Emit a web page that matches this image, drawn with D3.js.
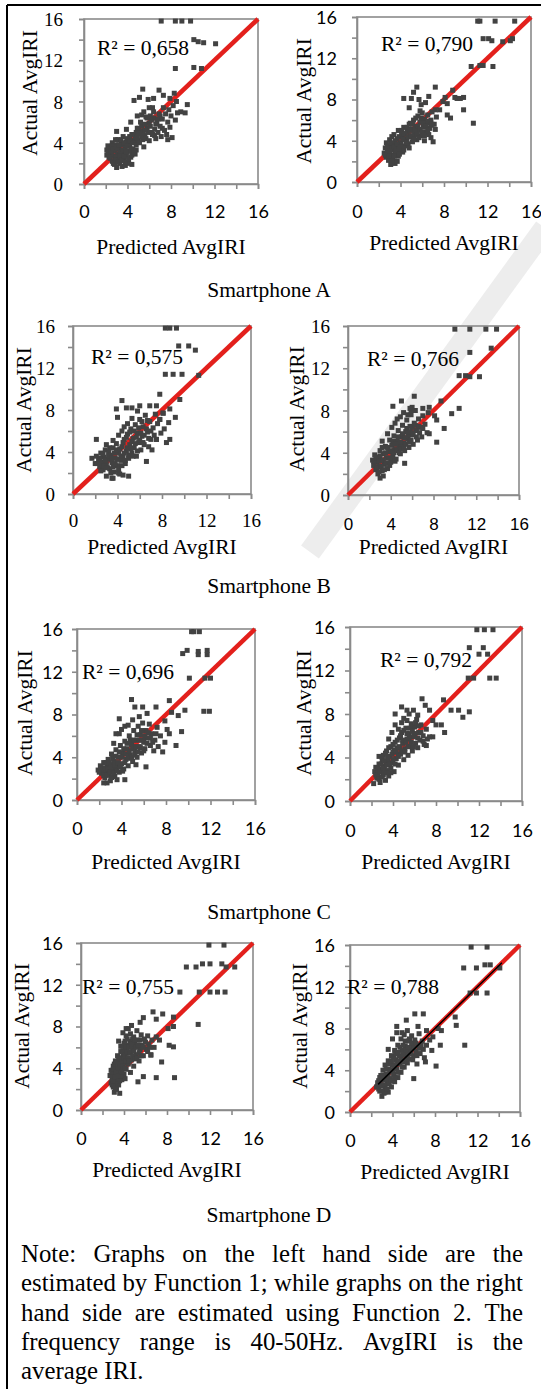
<!DOCTYPE html>
<html>
<head>
<meta charset="utf-8">
<script src="https://cdn.jsdelivr.net/npm/d3@7"></script>
<style>
  body { margin: 0; background: #fff; }
  svg { display: block; }
</style>
</head>
<body>
<div id="fig"></div>
<script>
// ---- data ----
const tickValues = [0, 2, 4, 6, 8, 10, 12, 14, 16];
const captions = ["Smartphone A", "Smartphone B", "Smartphone C", "Smartphone D"];
const r2Values = ["0,658", "0,790", "0,575", "0,766", "0,696", "0,792", "0,755", "0,788"];
const xTitle = "Predicted AvgIRI";
const yTitle = "Actual AvgIRI";
const trendD2 = [2.65, 14.3]; // thin black trend line, last panel
const noteLines = [
  "Note: Graphs on the left hand side are the",
  "estimated by Function 1; while graphs on the right",
  "hand side are estimated using Function 2. The",
  "frequency range is 40-50Hz. AvgIRI is the",
  "average IRI."
];

// [predicted, actual]
const pointsA1 = [
  [2.1,2.8],[2.1,3.3],[2.2,3.7],[2.4,2.5],[2.4,3.0],[2.5,3.5],[2.6,2.2],[2.6,4.0],[2.7,2.7],[2.8,3.2],[2.8,1.9],[2.9,3.8],
  [3.0,2.4],[3.0,1.6],[3.1,2.9],[3.1,4.3],[3.2,3.4],[3.3,2.0],[3.4,2.6],[3.4,3.9],[3.5,1.7],[3.5,3.1],[3.6,4.6],[3.7,2.3],
  [3.8,3.5],[3.8,1.8],[3.9,2.8],[3.9,4.1],[4.0,3.2],[4.1,2.0],[4.2,3.8],[4.2,4.6],[4.3,2.6],[4.4,1.9],[4.5,3.4],[4.6,4.2],
  [4.7,2.9],[4.8,5.0],[2.3,3.4],[2.9,2.6],[3.3,3.0],[3.6,3.8],[2.5,2.9],[3.2,2.3],[4.0,4.4],[4.4,3.1],
  [2.2,3.0],[2.3,2.6],[2.5,3.2],[2.6,3.7],[2.7,2.0],[2.7,3.4],[2.9,2.3],[2.9,4.3],[3.0,3.6],[3.1,2.1],[3.2,3.8],[3.3,2.7],
  [3.4,4.3],[3.5,2.3],[3.6,3.3],[3.7,2.7],[3.7,4.0],[3.8,2.1],[3.9,3.1],[4.0,3.7],[4.1,2.4],[4.2,4.2],[4.3,3.4],[4.4,2.8],
  [4.5,4.0],[4.6,3.0],[4.7,4.6],[4.8,3.3],[4.9,5.4],[5.0,4.2],[5.2,5.0],[5.3,5.6],[5.4,4.3],[5.6,4.7],[5.8,5.4],[6.0,5.9],
  [6.2,5.0],[6.4,6.4],[6.5,4.7],[6.8,6.3],[7.0,6.6],[7.2,5.4],[5.3,6.7],[5.7,6.5],[6.3,7.4],
  [3.0,5.1],[3.9,5.3],[4.4,4.8],[4.8,3.8],[4.9,4.5],[5.0,5.4],[5.1,4.0],[5.2,6.0],[5.3,4.6],[5.4,5.1],[5.5,3.6],[5.6,5.8],
  [5.7,4.4],[5.8,6.4],[5.9,5.0],[6.0,4.2],[6.1,5.6],[6.2,6.2],[6.3,4.8],[6.4,7.0],[6.5,5.3],[6.6,4.4],[6.7,6.0],[6.8,5.0],
  [6.9,6.8],[7.0,5.6],[7.1,4.6],[7.2,6.3],[7.3,7.4],[7.4,5.2],[7.5,6.8],[7.6,4.8],[7.7,6.0],[7.8,7.2],[7.9,5.5],[8.0,6.6],
  [8.1,4.5],[8.2,7.6],[7.7,4.3],[8.4,6.2],[8.6,6.9],[8.9,7.0],[9.3,6.9],[9.5,7.7],[8.5,8.0],[5.0,4.9],[5.6,5.2],[6.1,6.6],[6.6,5.8],
  [4.6,8.1],[5.1,8.4],[5.4,9.2],[5.9,8.2],[6.4,8.3],[6.9,9.1],[7.3,8.6],[7.9,8.3],[8.3,8.8],[6.0,7.4],[5.5,7.0],[4.9,6.6],[4.3,6.0],
  [7.1,15.8],[8.4,15.8],[9.0,15.8],[9.8,15.8],[10.1,14.0],[10.5,13.8],[11.0,13.7],[12.1,13.6],[8.4,11.2],[10.1,11.3],[10.8,11.2]
];
const pointsA2 = [
  [2.5,2.8],[2.6,3.3],[2.7,2.4],[2.7,3.8],[2.8,2.9],[2.9,2.1],[2.9,3.5],[3.0,4.1],[3.1,2.6],[3.1,1.7],[3.2,3.1],[3.3,2.2],
  [3.3,3.7],[3.4,4.6],[3.5,2.8],[3.5,1.8],[3.6,3.4],[3.7,4.2],[3.8,2.5],[3.8,5.0],[3.9,3.0],[4.0,3.8],[4.1,4.6],[4.2,2.9],
  [4.3,5.3],[4.4,3.5],[4.5,4.2],[4.6,4.9],[4.7,3.7],[4.8,5.6],[4.9,4.4],[5.0,5.1],[5.1,3.9],[5.2,6.0],[5.3,4.6],[5.4,5.4],
  [5.5,4.1],[5.6,6.4],[5.7,5.0],[5.8,5.8],[5.9,4.5],[6.0,6.7],[6.1,5.3],[6.2,6.1],[6.3,4.8],[6.4,5.7],[6.5,6.5],[6.7,5.2],
  [6.8,6.0],[6.9,6.8],[7.1,5.6],[7.3,6.3],[4.0,3.1],[4.6,4.0],[5.4,4.8],[3.6,2.6],[4.9,5.7],[5.8,6.9],[4.3,4.1],[3.0,3.3],
  [2.6,2.6],[2.8,3.4],[2.9,2.5],[3.0,3.0],[3.1,3.8],[3.2,2.0],[3.2,4.4],[3.4,2.5],[3.4,3.4],[3.5,4.0],[3.6,3.0],[3.7,2.0],
  [3.7,3.7],[3.9,4.4],[3.9,2.7],[4.0,3.4],[4.1,5.0],[4.2,4.2],[4.3,3.1],[4.4,4.7],[4.5,3.8],[4.6,5.3],[4.7,4.4],[4.8,3.3],
  [4.9,5.0],[5.0,4.5],[5.1,5.6],[5.2,4.2],[5.3,5.0],[5.4,6.2],[5.5,4.6],[5.6,5.4],[5.7,4.3],[5.8,5.1],[5.9,6.2],[6.0,4.8],
  [6.1,5.7],[6.2,4.5],[6.3,5.4],[6.5,5.0],[6.6,5.9],[6.8,5.5],
  [10.7,5.7],[9.8,8.2],[9.2,8.1],[9.5,8.1],[8.8,8.9],[8.3,6.5],[8.6,6.2],[9.8,7.0],[9.0,8.2],[8.1,8.2],[7.9,7.8],[7.6,7.0],
  [7.2,7.0],[8.3,7.6],[5.5,9.2],[4.3,8.1],[7.2,9.2],[6.6,8.3],[5.2,8.7],[5.0,8.1],[4.8,7.2],[5.7,8.0],[5.9,7.5],[6.3,7.7],
  [6.8,4.3],[7.0,3.9],[6.6,4.6],[6.2,4.0],[7.2,5.1],[6.9,5.6],
  [11.1,15.6],[11.3,15.6],[12.7,15.6],[14.5,15.6],[11.6,13.9],[12.1,13.9],[12.4,13.7],[13.4,13.6],[14.3,13.9],[14.1,13.7],
  [10.5,11.2],[11.3,11.3],[11.6,11.3],[12.5,11.2]
];
const pointsB1 = [
  [1.7,3.4],[2.0,2.9],[2.1,3.6],[2.3,3.2],[2.4,2.6],[2.5,3.9],[2.6,3.0],[2.7,2.3],[2.8,3.5],[2.9,4.2],[3.0,1.7],[3.0,2.8],
  [3.1,3.3],[3.2,4.0],[3.3,2.4],[3.4,3.7],[3.5,1.5],[3.5,3.0],[3.6,4.4],[3.7,2.1],[3.8,3.4],[3.9,4.8],[4.0,2.7],[4.1,3.9],
  [4.2,1.9],[4.3,3.2],[4.4,4.5],[4.5,1.8],[4.5,3.6],[4.6,5.2],[4.7,2.9],[4.8,4.1],[4.9,5.7],[5.0,1.7],[5.0,3.4],[5.1,4.7],
  [5.2,6.2],[5.3,3.9],[5.4,5.3],[5.5,4.4],[5.6,6.6],[5.7,3.6],[5.8,5.8],[5.9,4.9],[6.0,7.1],[6.1,4.2],[6.2,5.5],[6.3,6.4],
  [6.4,4.7],[6.5,7.5],[6.6,3.1],[6.7,5.9],[6.8,4.5],[6.9,6.9],[7.0,5.2],[7.1,4.2],[7.2,6.3],[7.4,7.6],[7.5,5.2],[7.6,6.7],
  [7.8,7.1],[7.9,5.8],[8.1,7.7],[8.2,6.2],[4.1,5.6],[3.6,5.1],[4.0,7.3],[4.6,6.4],[5.3,7.2],[5.8,7.9],[2.1,5.2],[3.0,4.7],
  [2.2,2.9],[2.4,3.4],[2.5,2.2],[2.7,3.8],[2.8,2.7],[2.9,3.2],[3.1,2.5],[3.2,3.6],[3.3,4.4],[3.4,2.0],[3.5,3.4],[3.6,2.6],
  [3.7,3.9],[3.8,2.9],[3.9,4.2],[4.0,3.3],[4.1,2.3],[4.2,4.3],[4.3,3.6],[4.4,2.7],[4.5,4.9],[4.6,3.9],[4.7,3.2],[4.8,5.4],
  [4.9,4.4],[5.0,3.7],[5.1,5.9],[5.2,4.3],[5.3,5.0],[5.4,3.6],[5.5,6.0],[5.6,4.8],[5.7,5.4],[5.8,4.1],[5.9,6.3],[6.0,5.1],
  [6.1,5.8],[6.3,4.9],[6.4,5.6],[6.6,6.2],[6.8,5.3],[7.0,6.0],[7.3,5.6],[6.2,6.9],[6.7,7.0],[4.4,6.0],[4.9,6.7],
  [7.8,9.5],[9.6,9.0],[4.4,8.9],[4.8,8.2],[5.3,8.2],[6.0,8.4],[6.9,8.4],[7.5,8.4],[8.1,7.7],[8.7,8.1],[9.2,7.3],[8.6,6.8],
  [8.7,5.2],[8.4,4.9],[7.5,5.2],[7.8,7.1],[3.6,1.5],[4.1,2.0],[3.9,8.1],
  [8.3,15.8],[8.7,15.8],[9.3,15.8],[9.5,14.1],[10.4,14.1],[11.0,13.7],[8.3,11.4],[9.0,11.4],[9.8,11.4],[11.3,11.3]
];
const pointsB2 = [
  [2.3,3.3],[2.4,2.8],[2.5,3.8],[2.6,2.4],[2.7,3.1],[2.8,3.6],[2.8,2.0],[2.9,2.7],[3.0,4.2],[3.0,1.6],[3.1,3.3],[3.2,2.3],
  [3.3,3.9],[3.3,1.8],[3.4,2.9],[3.5,4.6],[3.6,3.5],[3.7,2.5],[3.8,4.1],[3.9,5.2],[4.0,3.1],[4.1,4.7],[4.2,3.8],[4.3,5.6],
  [4.4,4.3],[4.5,3.4],[4.6,5.1],[4.7,6.1],[4.8,4.6],[4.9,3.9],[5.0,5.5],[5.1,6.6],[5.2,4.9],[5.3,4.2],[5.4,6.0],[5.5,7.1],
  [5.6,5.3],[5.7,4.5],[5.8,6.5],[5.9,7.6],[6.0,5.7],[6.1,4.8],[6.2,6.8],[6.3,8.0],[6.4,6.1],[6.5,5.2],[6.6,7.2],[6.8,6.4],
  [6.9,5.5],[7.0,7.5],[7.2,6.7],[7.4,5.9],[7.5,7.8],[4.6,7.2],[4.1,6.4],[5.2,7.8],[5.3,3.0],[3.7,5.8],[3.2,5.1],[6.0,8.3],
  [2.4,3.2],[2.6,3.5],[2.7,2.6],[2.9,3.2],[2.9,2.2],[3.0,3.7],[3.1,2.7],[3.2,4.5],[3.3,3.3],[3.4,2.4],[3.5,4.0],[3.6,3.0],
  [3.7,4.5],[3.8,3.5],[3.9,2.8],[4.0,4.2],[4.1,3.5],[4.2,5.1],[4.3,4.0],[4.4,3.2],[4.5,4.8],[4.6,4.2],[4.7,5.5],[4.8,4.0],
  [4.9,5.0],[5.0,4.4],[5.1,5.8],[5.2,4.5],[5.3,5.4],[5.4,4.8],[5.5,6.3],[5.6,5.6],[5.7,5.0],[5.8,6.0],[5.9,5.2],[6.0,6.4],
  [6.1,5.9],[6.3,6.6],[6.4,5.5],[6.6,6.5],[6.7,5.9],[7.0,6.3],[4.4,6.8],[4.9,7.4],[5.6,7.6],[5.9,8.0],
  [8.7,8.9],[10.4,8.2],[9.7,7.7],[8.3,7.1],[9.0,6.3],[8.3,5.0],[7.6,5.8],[5.0,8.9],[6.2,9.35],[4.2,8.4],[5.8,8.2],[7.0,8.2],
  [7.6,8.3],[8.1,7.5],
  [10.0,15.7],[11.4,15.7],[12.9,15.7],[13.9,15.7],[11.4,13.5],[13.4,13.9],[10.4,11.3],[11.0,11.3],[11.4,11.2],[12.3,11.2]
];
const pointsC1 = [
  [1.9,2.8],[2.1,3.2],[2.2,2.5],[2.3,2.9],[2.4,3.5],[2.5,2.1],[2.6,2.7],[2.7,3.1],[2.7,1.6],[2.8,3.8],[2.9,2.4],[3.0,3.3],
  [3.0,1.8],[3.1,4.3],[3.2,2.8],[3.3,3.6],[3.4,2.2],[3.5,4.7],[3.5,3.1],[3.6,1.9],[3.7,4.0],[3.8,2.6],[3.9,5.1],[4.0,3.4],
  [4.1,4.4],[4.2,2.9],[4.3,5.5],[4.4,3.8],[4.5,4.8],[4.6,3.2],[4.7,6.0],[4.8,4.2],[4.9,5.2],[5.0,3.6],[5.1,6.5],[5.2,4.6],
  [5.3,5.6],[5.4,4.0],[5.5,6.9],[5.6,5.0],[5.7,6.1],[5.8,4.4],[5.9,7.2],[6.0,5.4],[6.1,4.8],[6.2,6.5],[6.3,5.8],[6.5,7.1],
  [6.6,5.1],[6.7,6.2],[6.9,4.6],[7.0,5.6],[7.2,6.8],[7.3,5.0],[7.5,6.0],[7.7,4.5],[7.9,5.4],[8.1,6.6],[3.8,6.2],[4.3,6.9],
  [3.3,5.3],[5.0,7.5],[5.6,7.8],[4.3,1.9],[6.2,3.1],[5.3,3.3],[2.4,1.6],[3.1,2.1],
  [2.0,2.6],[2.2,3.0],[2.4,2.3],[2.5,3.0],[2.6,3.5],[2.7,2.3],[2.8,2.9],[2.9,3.5],[3.0,2.6],[3.1,3.1],[3.2,3.9],[3.3,2.5],
  [3.4,3.3],[3.5,4.1],[3.6,2.7],[3.7,3.5],[3.8,4.5],[3.9,3.1],[4.0,4.0],[4.1,2.7],[4.2,4.8],[4.3,3.5],[4.4,4.3],[4.5,5.3],
  [4.6,3.9],[4.7,4.6],[4.8,5.6],[4.9,4.0],[5.0,4.8],[5.1,5.6],[5.2,4.2],[5.3,5.0],[5.4,6.1],[5.5,4.5],[5.6,5.6],[5.7,4.9],
  [5.8,6.5],[5.9,5.6],[6.0,4.6],[6.1,6.0],[6.3,5.3],[6.4,6.3],[6.6,5.8],[6.8,5.4],[7.1,6.2],[4.0,6.6],[4.6,7.0],
  [11.4,8.3],[11.9,8.3],[9.7,8.4],[9.1,7.9],[9.4,6.4],[8.9,5.1],[8.3,6.2],[4.9,9.4],[3.8,7.6],[5.2,8.7],[5.9,8.7],[7.1,8.7],
  [3.5,6.2],[8.5,8.2],[7.9,7.4],[8.3,9.3],[6.3,8.1],
  [10.3,15.75],[10.5,15.75],[11.0,15.75],[9.5,13.7],[9.9,14.0],[10.9,13.9],[11.7,14.0],[10.9,13.6],[11.7,13.6],
  [10.1,11.4],[11.5,11.4],[12.0,11.4]
];
const pointsC2 = [
  [2.2,1.6],[2.5,2.1],[2.3,2.7],[2.4,3.1],[2.6,2.6],[2.7,3.4],[2.8,2.2],[2.8,1.7],[2.9,2.9],[3.0,3.7],[3.1,2.4],[3.1,4.2],
  [3.2,3.2],[3.3,1.9],[3.4,2.8],[3.4,4.6],[3.5,3.6],[3.6,2.3],[3.7,4.1],[3.8,3.0],[3.8,5.0],[3.9,3.5],[4.0,4.5],[4.1,2.7],
  [4.2,5.4],[4.3,3.9],[4.4,4.9],[4.5,3.3],[4.6,5.8],[4.7,4.3],[4.8,6.3],[4.9,5.3],[5.0,3.8],[5.1,4.8],[5.2,6.7],[5.3,5.7],
  [5.4,4.2],[5.5,6.2],[5.6,5.0],[5.7,7.1],[5.8,4.6],[5.9,5.9],[6.0,6.8],[6.1,5.3],[6.2,7.5],[6.3,4.9],[6.4,6.3],[6.5,5.6],
  [6.6,7.0],[6.8,6.0],[6.9,5.2],[7.1,6.6],[7.2,5.7],[4.2,7.0],[4.5,6.6],[3.6,5.7],[5.0,7.6],[5.5,8.0],[3.9,6.3],[2.7,4.1],
  [2.4,2.4],[2.6,3.0],[2.7,2.0],[2.8,2.7],[2.9,3.4],[3.0,2.2],[3.0,4.0],[3.1,3.0],[3.2,2.6],[3.2,3.7],[3.3,4.4],[3.4,3.3],
  [3.5,2.6],[3.5,4.0],[3.6,4.9],[3.7,3.4],[3.8,2.6],[3.9,4.3],[4.0,3.8],[4.0,5.2],[4.1,4.7],[4.2,3.4],[4.3,4.5],[4.4,5.6],
  [4.5,4.1],[4.6,5.0],[4.7,6.0],[4.8,4.6],[4.9,5.6],[5.0,6.5],[5.1,4.5],[5.2,5.4],[5.3,6.2],[5.4,5.0],[5.5,5.8],[5.6,6.7],
  [5.7,5.4],[5.8,6.4],[5.9,5.0],[6.0,6.2],[6.1,7.2],[6.3,5.8],[6.4,6.9],[6.6,6.3],[6.8,5.5],[4.8,7.2],[5.3,7.4],
  [10.1,8.35],[9.4,8.35],[10.5,7.7],[11.1,8.2],[8.7,9.3],[8.5,7.0],[8.8,6.3],[6.7,9.4],[4.2,8.0],[4.8,8.65],[5.3,8.35],
  [5.9,8.35],[6.3,7.9],[7.4,8.35],[7.0,8.8],[7.7,7.4],[8.0,7.0],[7.4,5.9],[7.1,5.1],[7.7,5.9],
  [11.8,15.75],[12.5,15.75],[13.3,15.75],[11.1,14.1],[12.4,14.1],[12.0,13.5],[12.8,13.5],[11.0,11.3],[11.5,11.3],
  [13.0,11.3],[13.6,11.3]
];
const pointsD1 = [
  [2.7,3.3],[2.8,2.6],[2.8,3.8],[2.9,3.0],[3.0,2.2],[3.0,4.2],[3.1,3.5],[3.1,1.7],[3.2,2.7],[3.2,4.7],[3.3,3.9],[3.3,2.0],
  [3.4,3.1],[3.4,5.2],[3.5,4.3],[3.5,2.4],[3.6,3.6],[3.6,1.6],[3.7,5.6],[3.7,4.8],[3.8,2.9],[3.8,4.0],[3.9,6.1],[3.9,5.2],
  [4.0,3.4],[4.0,4.5],[4.1,6.6],[4.1,5.7],[4.2,3.9],[4.2,7.1],[4.3,5.0],[4.4,6.2],[4.4,4.4],[4.5,5.5],[4.6,7.3],[4.6,6.6],
  [4.7,4.8],[4.8,5.9],[4.9,7.0],[4.9,4.2],[5.0,6.3],[5.1,5.3],[5.2,7.6],[5.3,6.7],[5.4,4.7],[5.5,5.8],[5.6,7.2],[5.7,6.2],
  [5.8,5.2],[5.9,6.8],[6.1,5.8],[6.2,7.1],[6.3,6.3],[6.5,5.3],[6.6,6.7],[6.8,6.0],[7.0,7.0],[3.5,6.6],[3.9,7.4],[4.4,7.8],
  [4.1,3.0],[4.6,3.6],[3.4,2.8],
  [2.8,3.3],[2.9,2.4],[2.9,3.6],[3.0,2.8],[3.0,3.9],[3.1,2.3],[3.1,4.4],[3.2,3.2],[3.2,2.0],[3.3,3.6],[3.3,4.6],[3.4,2.5],
  [3.4,4.0],[3.5,3.3],[3.5,5.0],[3.6,4.4],[3.6,2.8],[3.7,3.3],[3.7,6.1],[3.8,4.6],[3.8,3.6],[3.9,5.6],[3.9,4.2],[4.0,5.0],
  [4.0,6.4],[4.1,4.0],[4.1,5.3],[4.2,6.0],[4.2,4.7],[4.3,5.6],[4.3,6.8],[4.4,5.0],[4.5,6.0],[4.5,4.7],[4.6,5.5],[4.7,6.3],
  [4.8,5.2],[4.8,6.8],[4.9,5.7],[5.0,4.9],[5.0,6.7],[5.1,6.0],[5.2,5.0],[5.3,6.2],[5.4,5.5],[5.5,6.7],[5.6,5.2],[5.8,6.0],
  [6.0,6.5],[6.2,5.6],[6.4,6.0],
  [10.9,8.2],[4.2,7.8],[4.7,8.1],[5.5,8.4],[5.8,8.85],[6.7,9.4],[7.0,8.7],[7.6,9.2],[8.1,7.8],[8.6,8.0],[8.6,8.9],[8.2,6.2],
  [8.6,6.05],[7.3,6.7],[7.5,4.6],[6.5,5.25],[7.0,3.1],[8.7,3.1],[5.3,2.7],[5.8,3.2],
  [11.9,15.8],[13.3,15.8],[9.8,13.7],[10.7,13.7],[11.3,14.0],[12.0,14.0],[13.1,14.0],[13.5,13.7],[14.3,13.7],
  [9.2,11.3],[11.0,11.3],[12.0,11.3],[12.7,11.3],[13.4,11.3]
];
const pointsD2 = [
  [2.5,2.4],[2.7,3.0],[2.8,2.0],[2.9,3.5],[3.0,1.5],[3.0,2.6],[3.1,4.0],[3.2,3.1],[3.2,1.8],[3.3,2.3],[3.3,4.5],[3.4,3.6],
  [3.5,2.7],[3.6,4.9],[3.6,1.9],[3.7,4.1],[3.8,3.2],[3.9,5.4],[3.9,2.4],[4.0,4.5],[4.1,3.6],[4.2,5.9],[4.2,2.9],[4.3,5.0],
  [4.4,4.1],[4.5,6.4],[4.5,3.3],[4.6,5.4],[4.7,4.6],[4.8,7.0],[4.8,3.8],[4.9,5.9],[5.0,5.0],[5.1,7.4],[5.1,4.3],[5.2,6.3],
  [5.3,5.5],[5.4,4.7],[5.5,6.8],[5.6,5.9],[5.7,5.1],[5.8,7.3],[5.9,6.3],[6.0,5.4],[6.1,6.9],[6.2,5.8],[6.3,4.6],[6.4,6.4],
  [6.5,7.5],[6.6,5.6],[6.8,6.8],[6.9,6.0],[7.0,5.2],[7.2,6.4],[4.0,7.0],[4.4,7.6],[3.6,6.0],[2.8,2.6],
  [2.6,2.8],[2.7,2.2],[2.8,3.3],[2.9,2.5],[3.0,3.1],[3.0,2.0],[3.1,3.5],[3.2,2.6],[3.3,3.3],[3.3,1.9],[3.4,4.1],[3.5,3.1],
  [3.5,2.2],[3.6,3.6],[3.7,2.8],[3.7,4.6],[3.8,3.9],[3.9,3.0],[3.9,4.9],[4.0,4.0],[4.1,5.3],[4.2,4.4],[4.2,3.3],[4.3,5.6],
  [4.4,4.7],[4.5,3.8],[4.5,5.7],[4.6,4.9],[4.7,6.2],[4.8,5.3],[4.9,4.3],[5.0,6.4],[5.0,5.5],[5.1,4.8],[5.2,6.8],[5.3,5.9],
  [5.4,5.1],[5.5,6.2],[5.6,7.0],[5.7,5.6],[5.8,6.6],[5.9,5.0],[6.0,6.1],[6.2,6.6],[6.3,5.4],[6.5,6.1],[6.7,6.4],[5.4,7.8],[4.9,7.6],
  [9.9,9.1],[10.0,8.3],[10.8,6.4],[8.5,6.4],[8.1,4.4],[6.0,3.2],[4.4,8.2],[5.3,8.8],[6.1,9.4],[6.9,9.4],[6.4,8.2],[7.2,7.8],
  [7.5,6.9],[7.1,4.8],[7.7,5.9],[7.8,7.2],[8.3,8.0],[8.6,7.8],
  [11.4,15.8],[12.9,15.8],[10.7,13.8],[11.9,13.8],[12.7,14.1],[13.2,14.1],[14.1,13.8],[11.3,11.4],[11.9,11.4],[12.9,11.4]
];

// ---- layout ----
const W = 541, H = 1389;
const SERIF = "'Liberation Serif', 'Times New Roman', serif";
const CALIBRI = "Lato, 'Open Sans', sans-serif";
const ARIAL = "'Liberation Sans', Arial, sans-serif";
const fontSize = { [SERIF]: 19, [CALIBRI]: 18, [ARIAL]: 17 };
const AXIS = "#8a8a8a";
const RED = "#e3201c";
const DOT = "#424242";

const panels = [
  { pts: pointsA1, r2: r2Values[0], x0: 84,  x1: 258, y0: 19,  y1: 184,  yFont: SERIF,   xFont: CALIBRI, yGap: 21, xLab: 34, xTit: 70, yTit: [37, 93],   r2At: [97, 55] },
  { pts: pointsA2, r2: r2Values[1], x0: 357, x1: 531, y0: 17,  y1: 182,  yFont: CALIBRI, xFont: CALIBRI, yGap: 20, xLab: 36, xTit: 68, yTit: [311, 101], r2At: [381, 51] },
  { pts: pointsB1, r2: r2Values[2], x0: 73,  x1: 251, y0: 326, y1: 494,  yFont: SERIF,   xFont: SERIF,   yGap: 18, xLab: 33, xTit: 60, yTit: [31, 410],  r2At: [91, 364] },
  { pts: pointsB2, r2: r2Values[3], x0: 348, x1: 519, y0: 326, y1: 495,  yFont: SERIF,   xFont: ARIAL,   yGap: 18, xLab: 35, xTit: 59, yTit: [304, 409], r2At: [367, 366] },
  { pts: pointsC1, r2: r2Values[4], x0: 77,  x1: 255, y0: 629, y1: 800,  yFont: CALIBRI, xFont: CALIBRI, yGap: 14, xLab: 35, xTit: 69, yTit: [32, 713],  r2At: [82, 679] },
  { pts: pointsC2, r2: r2Values[5], x0: 350, x1: 522, y0: 627, y1: 801,  yFont: CALIBRI, xFont: CALIBRI, yGap: 15, xLab: 36, xTit: 68, yTit: [311, 713], r2At: [380, 667] },
  { pts: pointsD1, r2: r2Values[6], x0: 81,  x1: 253, y0: 943, y1: 1110, yFont: CALIBRI, xFont: CALIBRI, yGap: 18, xLab: 35, xTit: 67, yTit: [29, 1026], r2At: [82, 994] },
  { pts: pointsD2, r2: r2Values[7], x0: 350, x1: 520, y0: 945, y1: 1112, yFont: CALIBRI, xFont: CALIBRI, yGap: 15, xLab: 35, xTit: 67, yTit: [307, 1026], r2At: [347, 994], trend: trendD2 }
];
const captionY = [297, 593, 919, 1222];

const svg = d3.select("#fig").append("svg")
  .attr("width", W)
  .attr("height", H);

svg.append("rect").attr("width", W).attr("height", H).attr("fill", "#fff");

// faint diagonal stroke of the publisher watermark
svg.append("line")
  .attr("x1", 310).attr("y1", 552).attr("x2", 545).attr("y2", 228)
  .attr("stroke", "#ededed").attr("stroke-width", 22);

// outer frame: only top and left rules show
svg.append("line").attr("x1", 7).attr("x2", W).attr("y1", 5).attr("y2", 5)
  .attr("stroke", "#000").attr("stroke-width", 2);
svg.append("line").attr("x1", 7).attr("x2", 7).attr("y1", 5).attr("y2", H)
  .attr("stroke", "#000").attr("stroke-width", 2);

const fmt = d => (d % 4 ? "" : d);

panels.forEach(p => {
  const x = d3.scaleLinear().domain([0, 16]).range([p.x0, p.x1]);
  const y = d3.scaleLinear().domain([0, 16]).range([p.y1, p.y0]);
  const g = svg.append("g");

  // plot-area border
  g.append("rect")
    .attr("x", p.x0).attr("y", p.y0)
    .attr("width", p.x1 - p.x0).attr("height", p.y1 - p.y0)
    .attr("fill", "none").attr("stroke", AXIS).attr("stroke-width", 1.6);

  const ax = g.append("g")
    .attr("transform", `translate(0,${p.y1})`)
    .call(d3.axisBottom(x).tickValues(tickValues).tickSize(5).tickFormat(fmt));
  const ay = g.append("g")
    .attr("transform", `translate(${p.x0},0)`)
    .call(d3.axisLeft(y).tickValues(tickValues).tickSize(5).tickFormat(fmt));

  [ax, ay].forEach(a => {
    a.select(".domain").attr("stroke", AXIS).attr("stroke-width", 1.6);
    a.selectAll(".tick line").attr("stroke", AXIS).attr("stroke-width", 1.6);
  });
  ax.selectAll(".tick text")
    .attr("y", p.xLab).attr("dy", null).attr("fill", "#000")
    .style("font-family", p.xFont).style("font-size", fontSize[p.xFont] + "px");
  ay.selectAll(".tick text")
    .attr("x", -p.yGap).attr("dy", "0.35em").attr("fill", "#000")
    .style("font-family", p.yFont).style("font-size", fontSize[p.yFont] + "px");

  // 1:1 line
  g.append("line")
    .attr("x1", x(0)).attr("y1", y(0)).attr("x2", x(16)).attr("y2", y(16))
    .attr("stroke", RED).attr("stroke-width", 4.5);

  // observations
  g.append("g").selectAll("rect")
    .data(p.pts)
    .join("rect")
    .attr("x", d => x(d[0]) - 2.5)
    .attr("y", d => y(d[1]) - 2.5)
    .attr("width", 5).attr("height", 5)
    .attr("fill", DOT);

  if (p.trend) {
    g.append("line")
      .attr("x1", x(p.trend[0])).attr("y1", y(p.trend[0]))
      .attr("x2", x(p.trend[1])).attr("y2", y(p.trend[1]))
      .attr("stroke", "#000").attr("stroke-width", 1.5);
  }

  g.append("text")
    .attr("x", p.r2At[0]).attr("y", p.r2At[1])
    .style("font-family", SERIF).style("font-size", "21.5px")
    .text("R² = " + p.r2);

  g.append("text")
    .attr("x", (p.x0 + p.x1) / 2).attr("y", p.y1 + p.xTit)
    .attr("text-anchor", "middle")
    .style("font-family", SERIF).style("font-size", "21.5px")
    .text(xTitle);

  g.append("text")
    .attr("transform", `translate(${p.yTit[0]},${p.yTit[1]}) rotate(-90)`)
    .attr("text-anchor", "middle")
    .style("font-family", SERIF).style("font-size", "21.5px")
    .text(yTitle);
});

captions.forEach((c, i) => {
  svg.append("text")
    .attr("x", 269).attr("y", captionY[i])
    .attr("text-anchor", "middle")
    .style("font-family", SERIF).style("font-size", "21.5px")
    .text(c);
});

// note, justified between left and right margins
const noteLeft = 21, noteRight = 523, noteTop = 1262, noteStep = 29.3;
noteLines.forEach((line, i) => {
  const words = line.split(" ");
  const yy = noteTop + i * noteStep;
  const nodes = words.map(w => svg.append("text")
    .attr("y", yy)
    .style("font-family", SERIF).style("font-size", "24.8px")
    .text(w));
  const widths = nodes.map(n => n.node().getComputedTextLength());
  const last = i === noteLines.length - 1;
  const total = d3.sum(widths);
  let gap = last ? 6.2 : (noteRight - noteLeft - total) / (words.length - 1);
  if (gap < 3) gap = 3;
  let cx = noteLeft;
  nodes.forEach((n, k) => {
    n.attr("x", cx);
    cx += widths[k] + gap;
  });
});
</script>
</body>
</html>
